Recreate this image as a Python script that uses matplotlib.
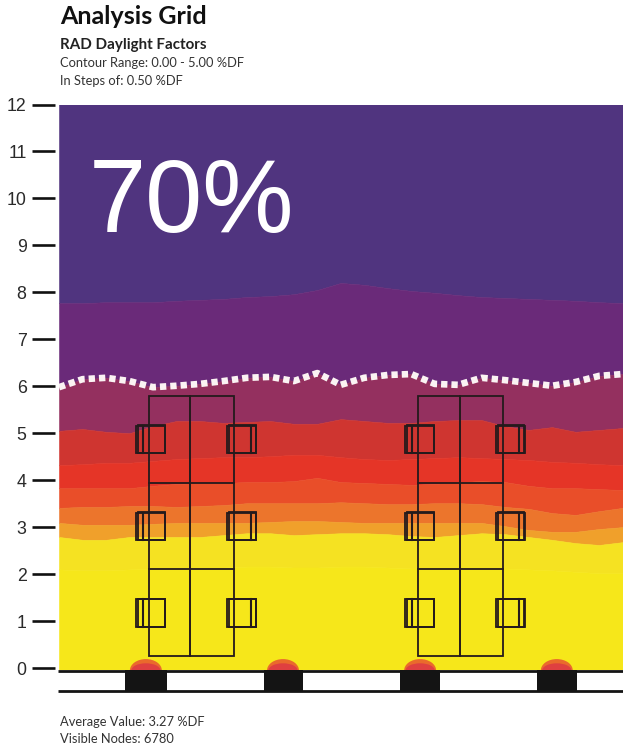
import matplotlib
matplotlib.use("Agg")
import matplotlib.pyplot as plt
from matplotlib.patches import Rectangle, Ellipse

W, H = 623, 750
SCALE = 46.96  # pixels per metre

stations = [i * 0.5 for i in range(25)]
b_top = [12.0] * 25
b_purple = [7.77,7.77,7.79,7.79,7.79,7.82,7.84,7.86,7.90,7.92,7.96,8.05,8.20,8.16,8.09,8.03,7.99,7.94,7.90,7.88,7.86,7.84,7.82,7.79,7.77]
b_dotted = [5.98,6.15,6.18,6.11,5.98,6.01,6.05,6.11,6.18,6.20,6.11,6.28,6.03,6.18,6.24,6.26,6.05,6.03,6.18,6.13,6.07,6.01,6.09,6.22,6.26]
b_maroon = [5.05,5.09,5.03,5.00,5.15,5.26,5.26,5.22,5.24,5.26,5.20,5.20,5.30,5.26,5.22,5.22,5.26,5.28,5.28,5.15,5.07,5.13,5.03,5.07,5.11]
b_dkred = [4.32,4.34,4.37,4.37,4.41,4.45,4.47,4.49,4.49,4.51,4.54,4.54,4.49,4.45,4.43,4.45,4.47,4.49,4.47,4.45,4.43,4.39,4.37,4.34,4.32]
b_red = [3.83,3.83,3.83,3.83,3.88,3.92,3.94,3.94,3.96,3.96,3.98,4.05,3.96,3.94,3.92,3.90,3.92,3.96,3.98,3.96,3.88,3.83,3.83,3.81,3.79]
b_redor = [3.41,3.43,3.43,3.45,3.45,3.43,3.45,3.47,3.51,3.51,3.51,3.51,3.53,3.51,3.49,3.49,3.51,3.51,3.49,3.43,3.39,3.30,3.26,3.34,3.41]
b_orange = [3.09,3.05,3.05,3.05,3.07,3.09,3.09,3.09,3.09,3.11,3.13,3.13,3.11,3.09,3.09,3.09,3.09,3.09,3.09,3.02,2.94,2.90,2.90,2.96,3.00]
b_amber = [2.79,2.73,2.73,2.79,2.79,2.79,2.79,2.83,2.87,2.87,2.83,2.85,2.87,2.87,2.85,2.81,2.79,2.83,2.87,2.85,2.79,2.73,2.66,2.62,2.68]
b_yellow = [2.10,2.08,2.08,2.10,2.12,2.12,2.14,2.14,2.16,2.16,2.14,2.14,2.16,2.16,2.14,2.12,2.12,2.14,2.14,2.12,2.10,2.08,2.05,2.02,2.02]
b_floor = [-0.05] * 25

boundaries = [b_top, b_purple, b_dotted, b_maroon, b_dkred, b_red, b_redor, b_orange, b_amber, b_yellow, b_floor]
band_colors = ["#50347f", "#6a2a79", "#94305f", "#cf3530", "#e53527", "#e94e29", "#ec752c", "#f0a02b", "#f5e222", "#f6e71a"]

y_ticks = list(range(13))
frames_x = [(1.92, 2.80, 3.73), (7.64, 8.54, 9.45)]
frame_y = (0.26, 2.11, 3.94, 5.79)
col_x = [1.95, 3.89, 7.68, 9.61]
col_y = [1.17, 3.02, 4.87]
win_spans = [(1.41, 2.30), (4.37, 5.20), (7.26, 8.11), (10.18, 11.03)]
bumps = [1.85, 4.77, 7.69, 10.60]
LINE = "#241a1c"

fig = plt.figure(figsize=(W / 100, H / 100), dpi=100, facecolor="white")
ax = fig.add_axes([59 / W, 1 - 692 / H, 564 / W, (692 - 104.5) / H])
ax.set_xlim(0, 564 / SCALE)
ax.set_ylim(-(692 - 668) / SCALE, 12)
ax.set_facecolor("none")
for s in ax.spines.values():
    s.set_color("none")
ax.spines["left"].set_position(("outward", 2.9))
ax.set_xticks([])
ax.set_yticks(y_ticks)
ax.tick_params(axis="y", length=16.5, width=1.9, color="#111111", pad=4,
               labelsize=12.8, labelcolor="#2a2a2a")
for t in ax.get_yticklabels():
    t.set_family("Liberation Sans")

for upper, lower, c in zip(boundaries[:-1], boundaries[1:], band_colors):
    ax.fill_between(stations, lower, upper, facecolor=c, edgecolor=c, lw=0.4, zorder=1)

ax.plot(stations, b_dotted, color="#fbf3f3", lw=4.8, ls=(0, (0.95, 0.6)),
        dash_capstyle="butt", zorder=3)

# floor bumps and window slab
for cx in bumps:
    ax.add_patch(Ellipse((cx, -0.05), 0.68, 0.48, color="#ea6a2c", lw=0, zorder=2))
    ax.add_patch(Ellipse((cx, -0.05), 0.62, 0.30, color="#df4040", lw=0, zorder=2.1))
ax.add_patch(Rectangle((0, -0.48), 564 / SCALE, 0.43, color="white", lw=0, zorder=2.5))
for a, b in win_spans:
    ax.add_patch(Rectangle((a, -0.48), b - a, 0.43, color="#141414", lw=0, zorder=4))
for yy in (-0.055, -0.48):
    ax.plot([-0.02, 564 / SCALE], [yy, yy], color="#141414", lw=2.0, clip_on=False,
            solid_capstyle="butt", zorder=5)

# building frames
for l, m, r in frames_x:
    ax.add_patch(Rectangle((l, frame_y[0]), r - l, frame_y[3] - frame_y[0], fill=False,
                           ec=LINE, lw=1.3, zorder=5))
    ax.plot([m, m], [frame_y[0], frame_y[3]], color=LINE, lw=1.4, zorder=5)
    for yy in frame_y[1:3]:
        ax.plot([l, r], [yy, yy], color=LINE, lw=1.3, zorder=5)

# columns
hw, hh = 0.31, 0.29
for i, cx in enumerate(col_x):
    inner = -0.17 if i % 2 == 0 else 0.19
    for cy in col_y:
        ax.add_patch(Rectangle((cx - hw, cy - hh), 2 * hw, 2 * hh, fill=False,
                               ec=LINE, lw=1.3, zorder=6))
        ax.add_patch(Rectangle((cx - hw + 0.04, cy - hh - 0.01), 2 * hw - 0.05, 2 * hh + 0.02,
                               fill=False, ec=LINE, lw=1.3, zorder=6))
        ax.plot([cx + inner, cx + inner], [cy - hh, cy + hh], color=LINE, lw=1.5, zorder=6)

ax.text(0.64, 9.84, "70%", color="white", fontsize=74, family="Liberation Sans",
        va="center", ha="left", zorder=7)

def label(x, y, s, size, weight="normal", color="#1c1c1c"):
    fig.text(x / W, 1 - y / H, s, fontsize=size, fontweight=weight, color=color,
             family="Lato", va="baseline", ha="left")

label(60, 24, "Analysis Grid", 18.0, "bold", "#111111")
label(60, 49, "RAD Daylight Factors", 10.9, "bold", "#222222")
label(60, 67, "Contour Range: 0.00 - 5.00 %DF", 9.3, "normal", "#333333")
label(60, 85, "In Steps of: 0.50 %DF", 9.3, "normal", "#333333")
label(60, 726, "Average Value: 3.27 %DF", 9.3, "normal", "#333333")
label(60, 743, "Visible Nodes: 6780", 9.3, "normal", "#333333")

fig.savefig("out.png", dpi=100)
